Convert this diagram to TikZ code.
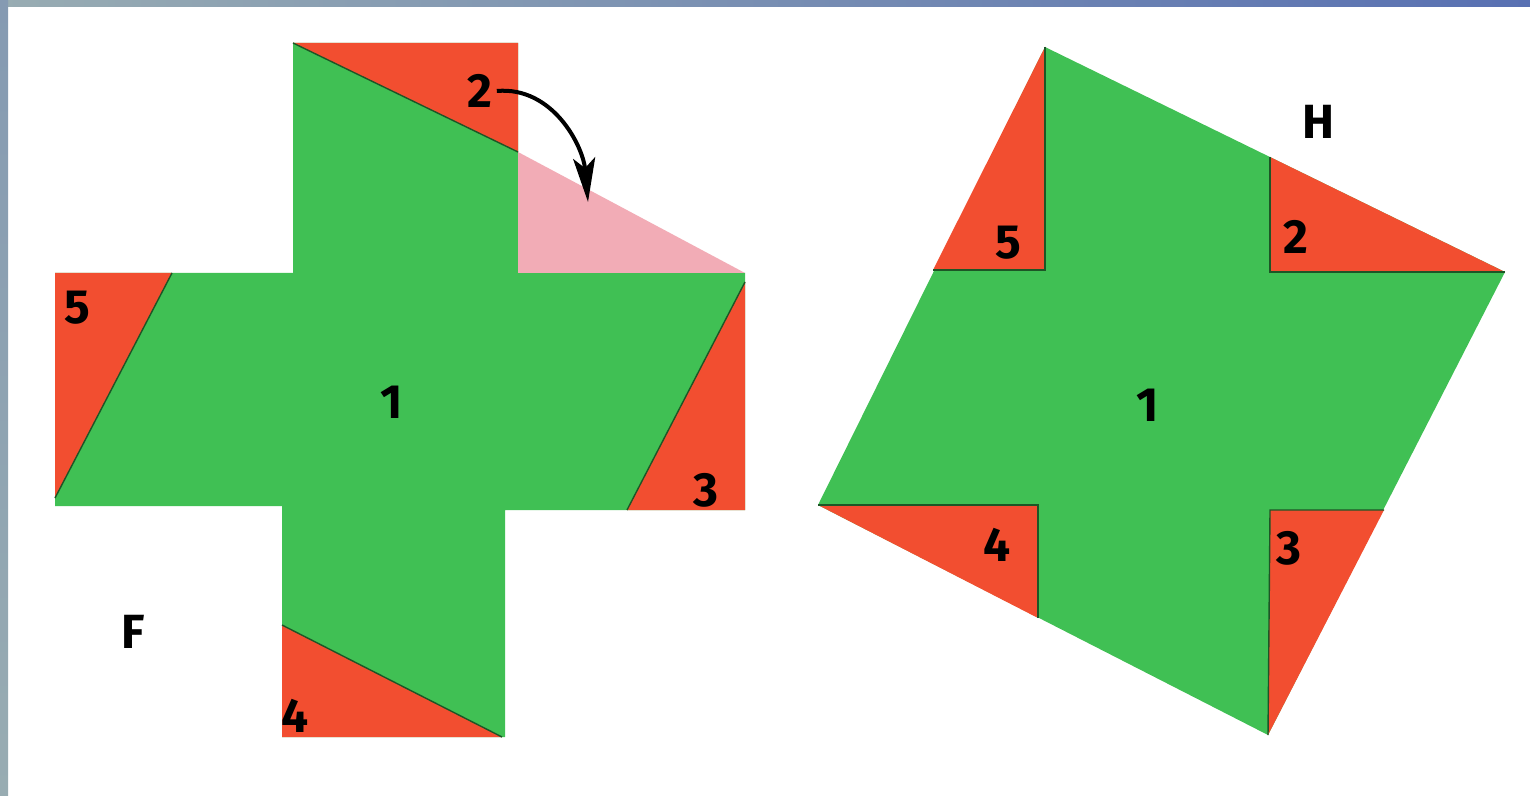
\documentclass[tikz,border=0pt]{standalone}
\usepackage{fontspec}
\setsansfont{Fira Sans}
\usetikzlibrary{arrows.meta}

\definecolor{leaf}{RGB}{64,192,84}
\definecolor{brick}{RGB}{242,78,48}
\definecolor{blush}{RGB}{242,172,182}
\definecolor{slide}{RGB}{88,112,178}
\definecolor{slidegrey}{RGB}{152,172,178}

\tikzset{
  num/.style={font=\sffamily\bfseries\fontsize{24}{28}\selectfont, inner sep=0pt},
  crease/.style={draw=black!55!leaf, line width=0.7pt},
  flip/.style={line width=2pt, -{Stealth[length=22pt,width=11pt,inset=5pt]}},
}

\begin{document}
\begin{tikzpicture}[x=0.5pt, y=-0.5pt]
	\useasboundingbox (0,0) rectangle (1530,796);
	\fill[white] (0,0) rectangle (1530,796);
	
	% slide border
	\fill[left color=slidegrey, right color=slide] (0,0) rectangle (1530,7);
	\fill[top color=slidegrey!70!slide, bottom color=slidegrey] (0,0) rectangle (8,796);
	
	% F: the cross
	\fill[leaf] (293,43) -- (518,43) -- (518,273) -- (745,273) -- (745,510) -- (505,510)
		-- (505,737) -- (282,737) -- (282,506) -- (55,506) -- (55,273) -- (293,273) -- cycle;
	\fill[blush] (518,152) -- (518,273) -- (745,273) -- cycle;
	\fill[brick] (293,43) -- (518,43) -- (518,152) -- cycle;
	\fill[brick] (55,273) -- (172,273) -- (55,498) -- cycle;
	\fill[brick] (745,282) -- (745,510) -- (627,510) -- cycle;
	\fill[brick] (282,625) -- (502,737) -- (282,737) -- cycle;
	\draw[crease] (293,43) -- (518,152);
	\draw[crease] (172,273) -- (55,498);
	\draw[crease] (745,282) -- (627,510);
	\draw[crease] (282,625) -- (502,737);
	
	\node[num] (f2) at (480,91) {2};
	\node[num] (f5) at (77,308) {5};
	\node[num] (f1) at (392,402) {1};
	\node[num] (f3) at (706,490) {3};
	\node[num] (f4) at (295,716) {4};
	\node[num] (fF) at (133,632) {F};
	
	\coordinate (fold) at (588,202);
	\draw[flip] (f2.east) ++(4,0) to[out=5, in=95] (fold);
	
	% H: the square
	\fill[leaf] (1045,47) -- (1505,272) -- (1268,735) -- (818,505) -- cycle;
	\fill[brick] (1045,47) -- (1045,270) -- (933,270) -- cycle;
	\fill[brick] (1270,157) -- (1505,272) -- (1270,272) -- cycle;
	\fill[brick] (818,505) -- (1038,505) -- (1038,618) -- cycle;
	\fill[brick] (1270,510) -- (1384,510) -- (1268,735) -- cycle;
	\draw[crease] (1045,47) -- (1045,270) -- (933,270);
	\draw[crease] (1270,157) -- (1270,272) -- (1505,272);
	\draw[crease] (818,505) -- (1038,505) -- (1038,618);
	\draw[crease] (1384,510) -- (1270,510) -- (1268,735);
	
	\node[num] (h5) at (1008,243) {5};
	\node[num] (h2) at (1296,237) {2};
	\node[num] (h1) at (1148,405) {1};
	\node[num] (h4) at (997,545) {4};
	\node[num] (h3) at (1289,548) {3};
	\node[num] (hH) at (1318,122) {H};
\end{tikzpicture}
\end{document}
